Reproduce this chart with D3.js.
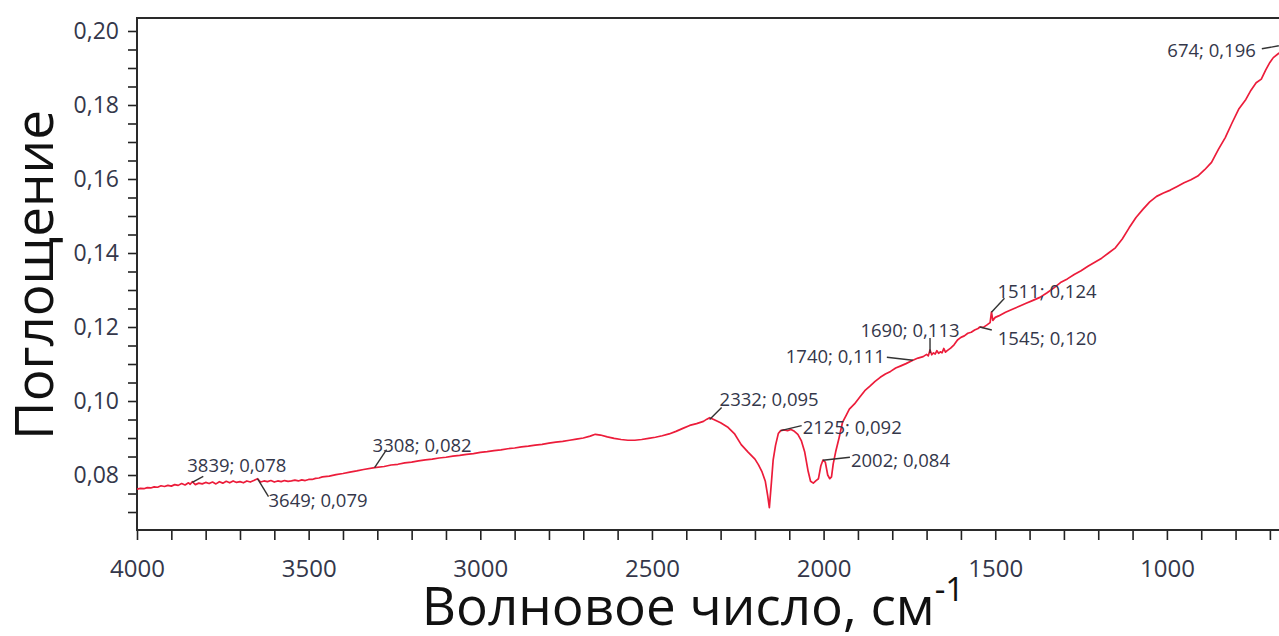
<!DOCTYPE html>
<html>
<head>
<meta charset="utf-8">
<script src="https://cdn.jsdelivr.net/npm/d3@7"></script>
<style>
  body { margin: 0; background: #fff; }
  svg { display: block; }
</style>
</head>
<body>
<script>
// spectrum
const wavenumbers = [4000,3990,3980,3970,3960,3950,3940,3930,3920,3910,3900,3890,3880,3870,3860,3850,3845,3839,3830,3820,3810,3800,3790,3780,3770,3760,3750,3740,3730,3720,3710,3700,3690,3680,3670,3660,3649,3640,3630,3620,3610,3600,3590,3580,3570,3560,3550,3540,3530,3520,3510,3500,3490,3480,3470,3460,3440,3420,3400,3380,3360,3340,3308,3280,3260,3240,3220,3200,3180,3160,3140,3120,3100,3080,3060,3040,3020,3000,2980,2960,2940,2920,2900,2880,2860,2840,2820,2800,2780,2760,2740,2720,2700,2680,2665,2650,2630,2610,2590,2570,2550,2530,2510,2490,2470,2450,2430,2410,2390,2370,2350,2340,2332,2320,2300,2280,2260,2240,2220,2200,2190,2180,2170,2163,2158,2152,2147,2140,2132,2125,2115,2105,2095,2085,2075,2065,2055,2045,2038,2030,2022,2015,2008,2002,1995,1988,1982,1977,1972,1965,1955,1945,1935,1925,1910,1895,1880,1865,1850,1835,1820,1805,1790,1775,1760,1740,1725,1710,1700,1695,1690,1685,1680,1675,1670,1665,1660,1655,1650,1645,1640,1630,1620,1610,1600,1590,1580,1570,1560,1550,1545,1535,1525,1515,1511,1507,1500,1490,1470,1450,1430,1410,1390,1370,1350,1330,1310,1290,1270,1250,1230,1210,1190,1170,1150,1130,1110,1090,1070,1050,1030,1010,990,970,950,930,910,890,870,850,830,810,790,770,755,740,725,712,700,690,674,660];
const absorbance = [0.0762,0.0764,0.0763,0.0766,0.0765,0.0768,0.0767,0.0771,0.0769,0.0772,0.0770,0.0774,0.0772,0.0777,0.0773,0.0779,0.0775,0.0782,0.0774,0.0778,0.0776,0.0780,0.0777,0.0781,0.0776,0.0782,0.0778,0.0783,0.0779,0.0784,0.0780,0.0782,0.0779,0.0784,0.0781,0.0785,0.0790,0.0781,0.0784,0.0782,0.0785,0.0781,0.0784,0.0782,0.0785,0.0783,0.0784,0.0786,0.0784,0.0787,0.0785,0.0788,0.0788,0.0791,0.0792,0.0795,0.0797,0.0801,0.0804,0.0808,0.0811,0.0815,0.0820,0.0823,0.0827,0.0829,0.0833,0.0835,0.0838,0.0841,0.0843,0.0846,0.0848,0.0851,0.0853,0.0856,0.0858,0.0861,0.0863,0.0866,0.0868,0.0871,0.0873,0.0876,0.0878,0.0881,0.0883,0.0886,0.0889,0.0891,0.0894,0.0897,0.0900,0.0905,0.0910,0.0908,0.0903,0.0899,0.0896,0.0894,0.0894,0.0896,0.0899,0.0902,0.0906,0.0911,0.0918,0.0926,0.0934,0.0939,0.0945,0.0951,0.0955,0.0950,0.0941,0.0930,0.0912,0.0882,0.0862,0.0843,0.0828,0.0810,0.0784,0.0745,0.0712,0.0780,0.0840,0.0880,0.0912,0.0920,0.0922,0.0920,0.0923,0.0918,0.0910,0.0893,0.0862,0.0810,0.0783,0.0778,0.0785,0.0790,0.0825,0.0840,0.0835,0.0800,0.0790,0.0795,0.0830,0.0862,0.0900,0.0942,0.0960,0.0978,0.0992,0.1010,0.1028,0.1040,0.1053,0.1064,0.1073,0.1080,0.1089,0.1095,0.1101,0.1110,0.1116,0.1120,0.1126,0.1122,0.1138,0.1125,0.1130,0.1127,0.1136,0.1129,0.1133,0.1130,0.1142,0.1132,0.1136,0.1143,0.1152,0.1165,0.1172,0.1176,0.1183,0.1186,0.1192,0.1196,0.1200,0.1199,0.1205,0.1212,0.1240,0.1218,0.1226,0.1230,0.1240,0.1248,0.1256,0.1264,0.1272,0.1280,0.1292,0.1305,0.1320,0.1330,0.1342,0.1352,0.1364,0.1375,0.1386,0.1400,0.1414,0.1438,0.1468,0.1496,0.1518,0.1538,0.1553,0.1562,0.1570,0.1580,0.1590,0.1598,0.1608,0.1625,0.1645,0.1680,0.1712,0.1752,0.1790,0.1815,0.1840,0.1860,0.1870,0.1895,0.1915,0.1928,0.1940,0.1945];

// labelled peaks
const peakWn  = [3839, 3649, 3308, 2332, 2125, 2002, 1740, 1690, 1545, 1511, 674];
const peakAbs = [0.078, 0.079, 0.082, 0.095, 0.092, 0.084, 0.111, 0.113, 0.120, 0.124, 0.196];

// where each label sits relative to its peak: leader end, text offset, anchor
const peakLayout = [
  { lx: 11, ly: -6,  tx: -5,  ty: -10, a: "start" },
  { lx: 11, ly: 18,  tx: 11,  ty: 28,  a: "start" },
  { lx: 12, ly: -18, tx: -2,  ty: -16, a: "start" },
  { lx: 12, ly: -12, tx: 10,  ty: -14, a: "start" },
  { lx: 21, ly: -5,  tx: 22,  ty: 3,   a: "start" },
  { lx: 27, ly: -3,  tx: 28,  ty: 7,   a: "start" },
  { lx: -26, ly: -3, tx: -28, ty: 3,   a: "end" },
  { lx: 0, ly: -15,  tx: -20, ty: -16, a: "middle" },
  { lx: 12, ly: 3,   tx: 18,  ty: 18,  a: "start" },
  { lx: 13, ly: -14, tx: 6,   ty: -14, a: "start" },
  { lx: -17, ly: 3,  tx: -23, ty: 11,  a: "end" }
];

const yMajor = [0.08, 0.10, 0.12, 0.14, 0.16, 0.18, 0.20];

const W = 1279, H = 636;
const plotLeft = 137, plotTop = 18, plotBottom = 530;

const svg = d3.select("body").append("svg")
    .attr("width", W)
    .attr("height", H);

const x = d3.scaleLinear()
    .domain([4000, 600])
    .range([plotLeft, plotLeft + 3400 * 0.3433]);

const y = d3.scaleLinear()
    .domain([0.06514, 0.20351])
    .range([plotBottom, plotTop]);

const comma = d => d3.format(".2f")(d).replace(".", ",");
const labelColor = "#34374a";

// x axis: tick every 100, label every 500
const xAxis = svg.append("g")
    .attr("transform", `translate(0,${plotBottom})`)
    .call(d3.axisBottom(x)
      .tickValues(d3.range(4000, 600, -100))
      .tickSize(10)
      .tickPadding(20)
      .tickFormat(d => d % 500 === 0 ? d : ""));
xAxis.select(".domain").remove();
xAxis.selectAll("line").attr("stroke", "#222").attr("stroke-width", 1.6);
xAxis.selectAll("text")
    .style("font-family", "Open Sans")
    .style("font-size", "24px")
    .attr("fill", labelColor);

// y axis: minor every 0.005
const yAxis = svg.append("g")
    .attr("transform", `translate(${plotLeft},0)`)
    .call(d3.axisLeft(y)
      .tickValues(d3.range(0.07, 0.2001, 0.005))
      .tickSize(9)
      .tickPadding(9)
      .tickFormat(d => yMajor.some(m => Math.abs(m - d) < 1e-6) ? comma(d) : ""));
yAxis.select(".domain").remove();
yAxis.selectAll("line").attr("stroke", "#222").attr("stroke-width", 1.6);
yAxis.selectAll("text")
    .style("font-family", "Open Sans")
    .style("font-size", "23px")
    .attr("fill", labelColor);

// frame
svg.append("path")
    .attr("d", `M${W},${plotTop}H${plotLeft}V${plotBottom}H${W}`)
    .attr("fill", "none")
    .attr("stroke", "#2a2a2a")
    .attr("stroke-width", 2);

// spectrum
const points = wavenumbers.map((w, i) => [w, absorbance[i]]);
svg.append("path")
    .datum(points)
    .attr("fill", "none")
    .attr("stroke", "#ec1c3a")
    .attr("stroke-width", 1.7)
    .attr("stroke-linejoin", "round")
    .attr("d", d3.line().x(d => x(d[0])).y(d => y(d[1])));

// peak labels
const peaks = svg.append("g");
peakWn.forEach((w, i) => {
  const px = x(w), py = y(peakAbs[i]), L = peakLayout[i];
  peaks.append("line")
      .attr("x1", px).attr("y1", py)
      .attr("x2", px + L.lx).attr("y2", py + L.ly)
      .attr("stroke", "#333")
      .attr("stroke-width", 1.4);
  peaks.append("text")
      .attr("x", px + L.tx)
      .attr("y", py + L.ty)
      .attr("text-anchor", L.a)
      .style("font-family", "Open Sans")
      .style("font-size", "18.5px")
      .attr("fill", labelColor)
      .text(`${w}; ${peakAbs[i].toFixed(3).replace(".", ",")}`);
});

// axis titles
svg.append("text")
    .attr("transform", `translate(53,275) rotate(-90)`)
    .attr("text-anchor", "middle")
    .style("font-family", "Open Sans")
    .style("font-size", "53px")
    .attr("fill", "#111")
    .text("Поглощение");

const xt = svg.append("text")
    .attr("x", 693)
    .attr("y", 625)
    .attr("text-anchor", "middle")
    .style("font-family", "Open Sans")
    .style("font-size", "53px")
    .attr("fill", "#111");
xt.append("tspan").text("Волновое число, см");
xt.append("tspan")
    .attr("dy", -24)
    .style("font-size", "33px")
    .text("-1");
</script>
</body>
</html>
